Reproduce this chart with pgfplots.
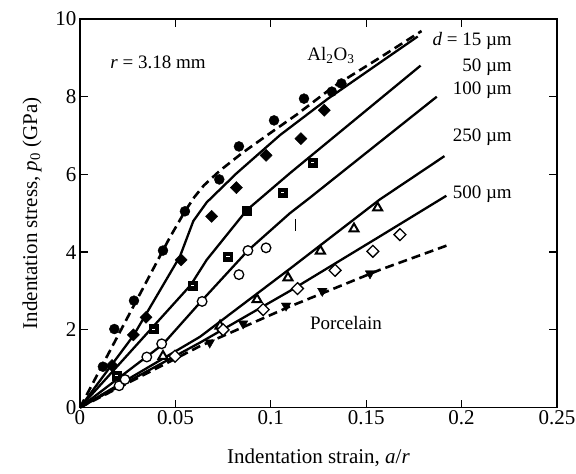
\documentclass[border=0pt]{standalone}
\usepackage{fontspec}
\setmainfont{Liberation Serif}
\usepackage{pgfplots}
\pgfplotsset{compat=1.18}
\begin{document}
\begin{tikzpicture}
\useasboundingbox (-80bp,-66.5bp) rectangle (496bp,407.5bp);
\begin{axis}[
  at={(0,0)}, anchor=south west,
  scale only axis, width=477bp, height=388.5bp,
  xmin=0, xmax=0.25, ymin=0, ymax=10,
  xtick={0,0.05,0.1,0.15,0.2,0.25},
  xticklabels={0,0.05,0.1,0.15,0.2,0.25},
  ytick={0,2,4,6,8,10},
  tick align=inside, major tick length=8bp,
  axis line style={line width=1.4bp},
  tick style={line width=1.3bp, black},
  ticklabel style={font=\fontsize{21bp}{24bp}\selectfont},
  /pgf/number format/assume math mode=true,
  xlabel={Indentation strain, \textit{a}/\textit{r}},
  ylabel={Indentation stress, \textit{p}\textsubscript{0} (GPa)},
  label style={font=\fontsize{21bp}{24bp}\selectfont},
  xlabel style={at={(axis description cs:0.5,-0.13)}, anchor=center},
  ylabel style={at={(axis description cs:-0.1006,0.5)}, anchor=center},
  clip=false,
]
% ---- lines ----
\addplot[black, line width=2.6bp, dash pattern=on 9bp off 5bp] coordinates {
(0,0) (0.047,4.37) (0.055,5.05) (0.06,5.42) (0.065,5.72) (0.0734,6.1) (0.085,6.55) (0.0996,7.06) (0.1136,7.54) (0.1326,8.25) (0.157,9.0) (0.179,9.69)};
\addplot[black, line width=2.3bp] coordinates {
(0,0) (0.028,1.85) (0.0524,3.89) (0.0594,4.8) (0.0664,5.28) (0.0821,6.03) (0.1048,7.01) (0.13,7.95) (0.157,8.87) (0.177,9.55)};
\addplot[black, line width=2.3bp] coordinates {
(0,0) (0.058,3.15) (0.0664,3.8) (0.0874,5.08) (0.11,6.03) (0.1785,8.8)};
\addplot[black, line width=2.3bp] coordinates {
(0,0) (0.0433,1.62) (0.0629,2.7) (0.088,4.04) (0.110,5.0) (0.1205,5.4) (0.155,6.75) (0.187,8.0)};
\addplot[black, line width=2.3bp] coordinates {
(0,0) (0.0629,1.82) (0.11,3.57) (0.157,5.35) (0.191,6.47)};
\addplot[black, line width=2.3bp] coordinates {
(0,0) (0.0629,1.67) (0.11,3.0) (0.157,4.4) (0.192,5.45)};
\addplot[black, line width=2.6bp, dash pattern=on 9bp off 5bp] coordinates {
(0,0) (0.0629,1.58) (0.11,2.6) (0.157,3.54) (0.194,4.2)};
\addplot[black, line width=0.9bp] coordinates {(0.1127,4.55) (0.1127,4.85)};
% ---- markers ----
% Al2O3 filled circles
\addplot[only marks, mark=*, mark size=5bp, black] coordinates {
(0.012,1.05) (0.018,2.02) (0.0283,2.75) (0.0435,4.04) (0.055,5.05) (0.073,5.87) (0.0833,6.72) (0.1017,7.39) (0.1174,7.95) (0.132,8.13) (0.137,8.34)};
% 15 um filled diamonds
\addplot[only marks, mark=square*, mark size=4.3bp, black, mark options={rotate=45}] coordinates {
(0.0168,1.08) (0.028,1.87) (0.0346,2.32) (0.053,3.8) (0.069,4.92) (0.082,5.66) (0.0975,6.49) (0.1158,6.92) (0.128,7.65)};
% 50 um squares
\addplot[only marks, mark=square*, mark size=4.5bp, black] coordinates {
(0.019,0.82) (0.0385,2.02) (0.059,3.14) (0.0776,3.89) (0.0875,5.07) (0.106,5.54) (0.122,6.3)};
\addplot[only marks, mark=-, mark size=1.6bp, white, line width=1bp] coordinates {
(0.019,0.82) (0.0385,2.02) (0.059,3.14) (0.0776,3.89) (0.106,5.54) (0.122,6.3)};
% 100 um open circles
\addplot[only marks, mark=*, mark size=4.8bp, mark options={fill=white, draw=black, line width=1.3bp}] coordinates {
(0.0205,0.56) (0.0236,0.72) (0.035,1.3) (0.0428,1.64) (0.064,2.73) (0.0833,3.42) (0.088,4.04) (0.0975,4.11)};
% 250 um triangles
\addplot[only marks, mark=triangle*, mark size=5.2bp, mark options={fill=white, draw=black, line width=2bp}] coordinates {
(0.0435,1.32) (0.0734,2.1) (0.0928,2.78) (0.109,3.34) (0.126,4.03) (0.1436,4.6) (0.156,5.14)};
% 500 um open diamonds
\addplot[only marks, mark=square*, mark size=4.2bp, mark options={rotate=45, fill=white, draw=black, line width=1.3bp}] coordinates {
(0.0498,1.32) (0.075,2.0) (0.096,2.52) (0.114,3.06) (0.1337,3.53) (0.1535,4.02) (0.1677,4.45)};
% Porcelain inverted triangles
\addplot[only marks, mark=triangle*, mark size=5.5bp, black, mark options={rotate=180}] coordinates {
(0.068,1.67) (0.0855,2.16) (0.108,2.62) (0.127,3.0) (0.152,3.45)};
% ---- annotations ----
\begin{scope}[every node/.style={font=\fontsize{19bp}{22bp}\selectfont, inner sep=0pt}]
\node[anchor=center] at (axis cs:0.0409,8.89) {\textit{r} = 3.18 mm};
\node[anchor=center] at (axis cs:0.1315,9.05) {Al\textsubscript{2}O\textsubscript{3}};
\node[anchor=east] at (axis cs:0.2264,9.43) {\textit{d} = 15 µm};
\node[anchor=east] at (axis cs:0.2264,8.76) {50 µm};
\node[anchor=east] at (axis cs:0.2264,8.17) {100 µm};
\node[anchor=east] at (axis cs:0.2264,6.96) {250 µm};
\node[anchor=east] at (axis cs:0.2264,5.49) {500 µm};
\node[anchor=center] at (axis cs:0.1394,2.18) {Porcelain};
\end{scope}
\end{axis}
\end{tikzpicture}
\end{document}
